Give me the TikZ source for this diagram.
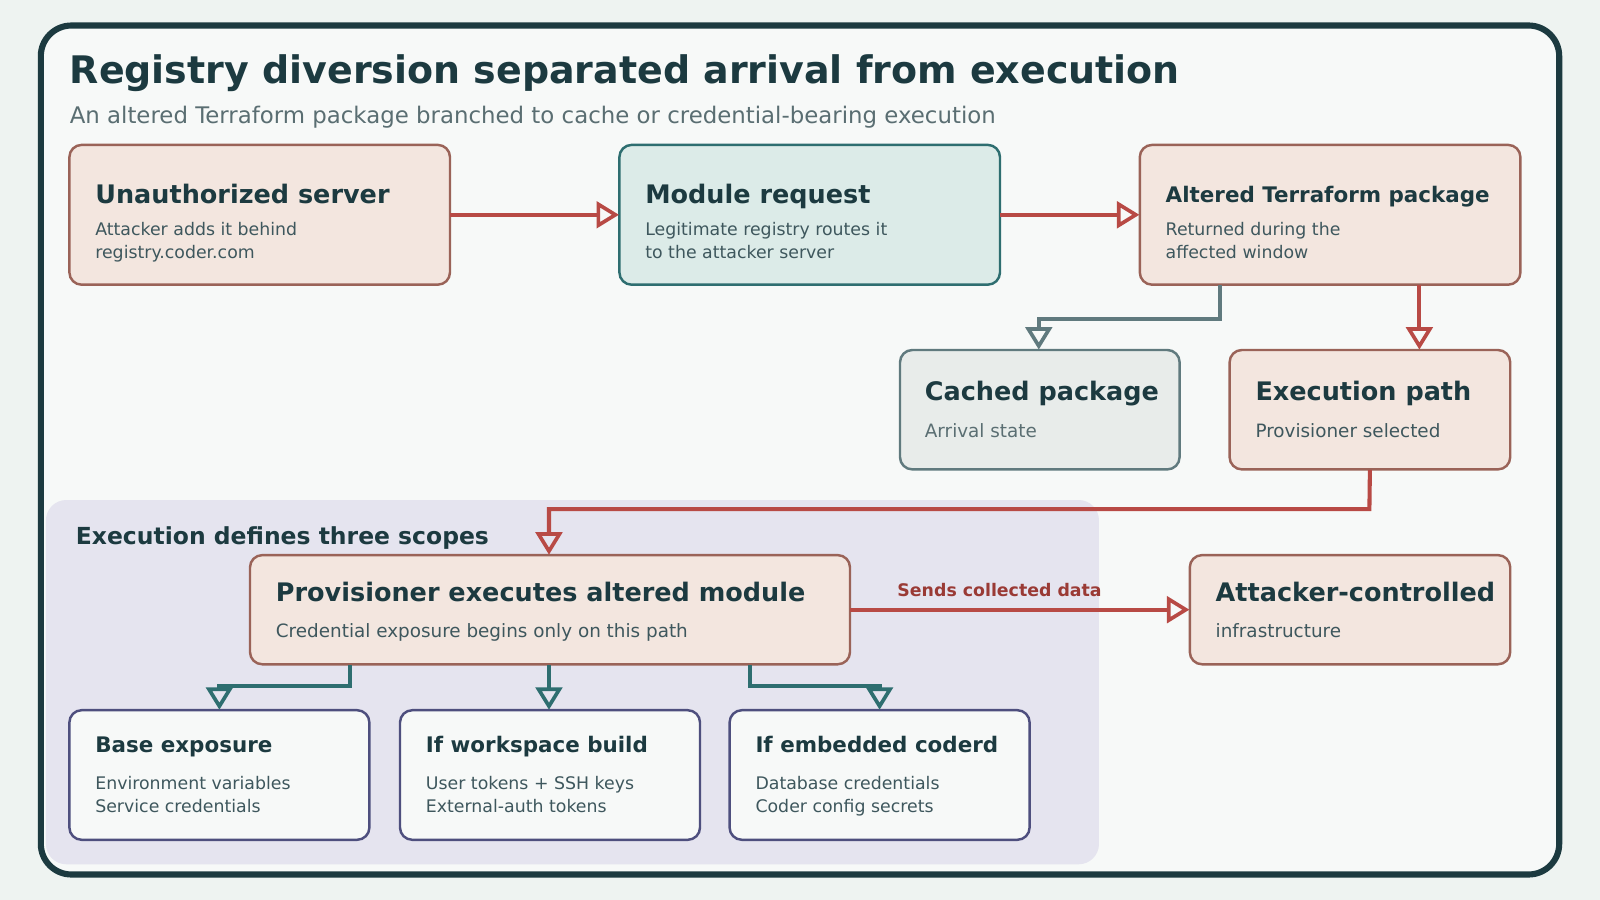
\documentclass[tikz,border=0pt]{standalone}
\usepackage{fontspec}
\setmainfont{DejaVu Sans}
\usetikzlibrary{arrows.meta}
\definecolor{bgc}{HTML}{EEF3F1}
\definecolor{panel}{HTML}{F7F9F8}
\definecolor{dark}{HTML}{1C3A40}
\definecolor{sub}{HTML}{5A6E72}
\definecolor{peach}{HTML}{F3E6DF}
\definecolor{peachd}{HTML}{9A6358}
\definecolor{tealf}{HTML}{DCEBE8}
\definecolor{teald}{HTML}{2E6E70}
\definecolor{greyf}{HTML}{E8ECEA}
\definecolor{greyd}{HTML}{607A7E}
\definecolor{grp}{HTML}{E5E4EF}
\definecolor{navy}{HTML}{4E4F7E}
\definecolor{redl}{HTML}{B84A45}
\definecolor{redt}{HTML}{9A3A35}
\tikzset{
 x=0.5pt,y=-0.5pt,
 box/.style={draw,line width=1.2pt,rounded corners=6pt},
 pbox/.style={box,fill=peach,draw=peachd},
 ttl/.style={anchor=base west,text=dark,font=\bfseries\fontsize{12.5}{15}\selectfont,inner sep=0},
 ttls/.style={anchor=base west,text=dark,font=\bfseries\fontsize{10.5}{13}\selectfont,inner sep=0},
 bdy/.style={anchor=base west,text=dark!85,font=\fontsize{8.5}{11}\selectfont,inner sep=0,align=left},
 bdyl/.style={anchor=base west,text=dark!85,font=\fontsize{9}{12}\selectfont,inner sep=0},
 con/.style={line width=2pt,-{Triangle[open,length=11pt,width=13pt,line width=1.8pt]}},
 rcon/.style={con,draw=redl},
 gcon/.style={con,draw=greyd},
 tcon/.style={con,draw=teald},
}
\begin{document}
\begin{tikzpicture}
\fill[bgc] (0,0) rectangle (1568,882);
\useasboundingbox (0,0) rectangle (1568,882);
\draw[line width=3pt,draw=dark,fill=panel,rounded corners=15pt] (40,25) rectangle (1528,857);
\node[anchor=base west,inner sep=0,text=dark,font=\bfseries\fontsize{18.6}{22}\selectfont] (title) at (68,82) {Registry diversion separated arrival from execution};
\node[anchor=base west,inner sep=0,text=sub,font=\fontsize{11.2}{13}\selectfont] (subt) at (68,121) {An altered Terraform package branched to cache or credential-bearing execution};
% group
\fill[grp,rounded corners=10pt] (45,490) rectangle (1077,847);
\node[anchor=base west,inner sep=0,text=dark,font=\bfseries\fontsize{11.5}{13}\selectfont] (glab) at (74,534) {Execution defines three scopes};
% top row
\draw[pbox] (68,142) rectangle (441,279);
\node (a) at (254.5,210.5) [minimum width=186.5pt,minimum height=68.5pt] {};
\node[ttl] at (93,199) {Unauthorized server};
\node[bdy] at (93,253) {Attacker adds it behind\\registry.coder.com};
\draw[box,fill=tealf,draw=teald] (607,142) rectangle (980,279);
\node (b) at (793.5,210.5) [minimum width=186.5pt,minimum height=68.5pt] {};
\node[ttl] at (632,199) {Module request};
\node[bdy] at (632,253) {Legitimate registry routes it\\to the attacker server};
\draw[pbox] (1117,142) rectangle (1490,279);
\node (c) at (1303.5,210.5) [minimum width=186.5pt,minimum height=68.5pt] {};
\node[ttls] at (1142,198) {Altered Terraform package};
\node[bdy] at (1142,253) {Returned during the\\affected window};
% middle
\draw[box,fill=greyf,draw=greyd] (882,343) rectangle (1156,460);
\node (d) at (1019,401.5) [minimum width=137pt,minimum height=58.5pt] {};
\node[ttl] at (906,392) {Cached package};
\node[bdyl,text=sub] at (906,429) {Arrival state};
\draw[pbox] (1205,343) rectangle (1480,460);
\node (e) at (1342.5,401.5) [minimum width=137.5pt,minimum height=58.5pt] {};
\node[ttl] at (1230,392) {Execution path};
\node[bdyl] at (1230,429) {Provisioner selected};
% provisioner
\draw[pbox] (245,544) rectangle (833,651);
\node (p) at (539,597.5) [minimum width=294pt,minimum height=53.5pt] {};
\node[ttl] at (270,589) {Provisioner executes altered module};
\node[bdyl] at (270,625) {Credential exposure begins only on this path};
\draw[pbox] (1166,544) rectangle (1480,651);
\node (f) at (1323,597.5) [minimum width=157pt,minimum height=53.5pt] {};
\node[ttl] at (1191,589) {Attacker-controlled};
\node[bdyl] at (1191,625) {infrastructure};
% bottom
\foreach \n/\x/\t/\l/\m in {g1/68/Base exposure/Environment variables/Service credentials, g2/392/If workspace build/User tokens + SSH keys/External-auth tokens, g3/715/If embedded coderd/Database credentials/Coder config secrets}{
 \draw[box,fill=panel,draw=navy] (\x,696) rectangle ++(294,127);
 \node (\n) at ([xshift=73.5pt]\x,759.5) [minimum width=147pt,minimum height=63.5pt] {};
 \node[ttls] at ([xshift=12.5pt]\x,737) {\t};
 \node[bdy] at ([xshift=12.5pt]\x,796) {\l\\\m};
}
% connectors
\draw[rcon] (a.east) -- (b.west);
\draw[rcon] (b.east) -- (c.west);
\draw[gcon] (c.south -| 1196,0) -- (1196,313) -- (1018,313) -- (d.north -| 1018,0);
\draw[rcon] (c.south -| 1391,0) -- (e.north -| 1391,0);
\draw[rcon] (e.south) -- (1342,499) -- (538,499) -- (p.north -| 538,0);
\draw[rcon] (p.east) -- node[pos=0.44,above=2pt,text=redt,font=\bfseries\fontsize{8.5}{10}\selectfont]{Sends collected data} (f.west);
\draw[tcon] (p.south -| 343,0) -- (343,672) -- (215,672) -- (g1.north -| 215,0);
\draw[tcon] (p.south -| 538,0) -- (g2.north -| 538,0);
\draw[tcon] (p.south -| 735,0) -- (735,672) -- (862,672) -- (g3.north -| 862,0);
\end{tikzpicture}
\end{document}
